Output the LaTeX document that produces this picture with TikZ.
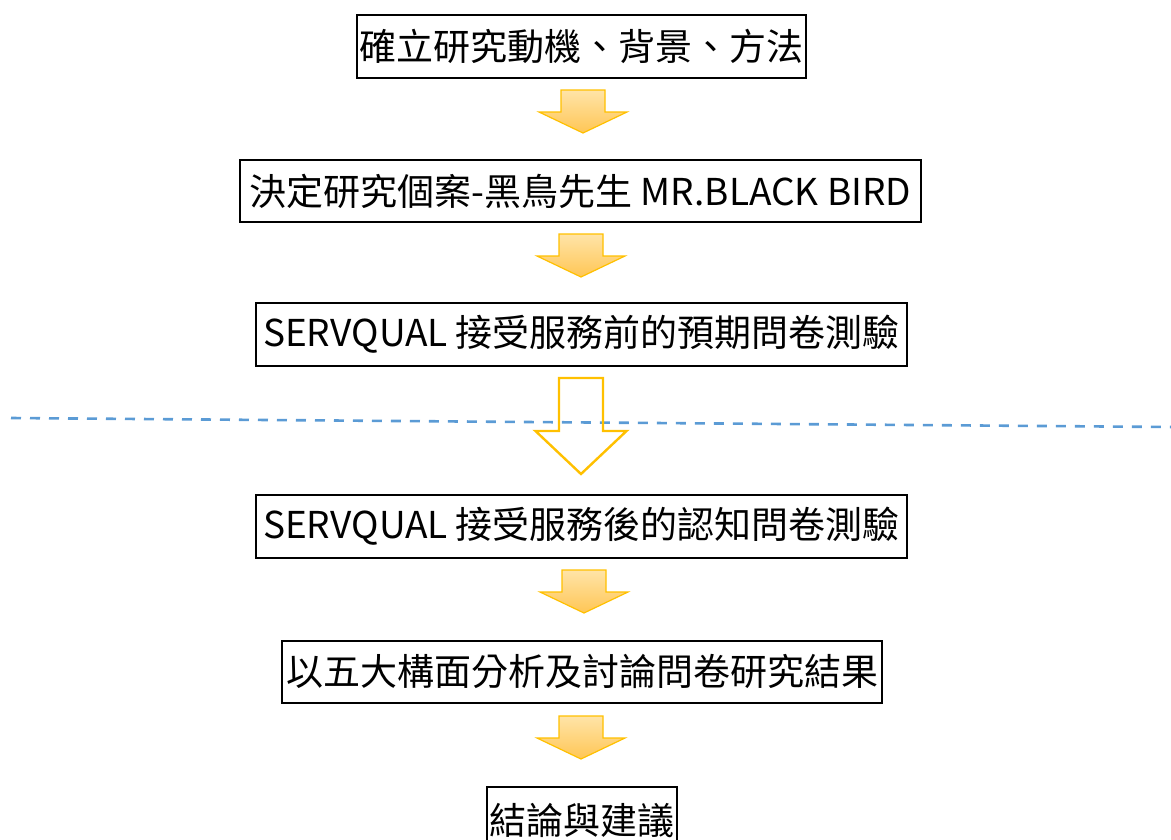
\documentclass[tikz,border=0pt]{standalone}
\usepackage{fontspec}
\setmainfont{Noto Sans CJK TC}
\definecolor{arrowedge}{HTML}{FFC000}
\definecolor{arrowtop}{HTML}{FFE4A8}
\definecolor{arrowbot}{HTML}{FFC655}
\definecolor{dashblue}{HTML}{5B9BD5}
\tikzset{
  stepbox/.style={draw=black, line width=2.2pt, inner sep=0pt, font=\fontsize{37}{40}\selectfont, text=black},
  pics/fillarrow/.style={code={
    \path[draw=arrowedge, line width=1.2pt, top color=arrowtop, bottom color=arrowbot]
      (-22,0) -- (22,0) -- (22,22) -- (44,22) -- (0,43) -- (-44,22) -- (-22,22) -- cycle;
  }},
  pics/openarrow/.style={code={
    \draw[arrowedge, line width=2.4pt, line join=miter]
      (-22,0) -- (22,0) -- (22,53) -- (45.5,53) -- (0,96) -- (-45.5,53) -- (-22,53) -- cycle;
  }},
}
\begin{document}
\begin{tikzpicture}[x=1pt,y=-1pt]
\useasboundingbox (0,0) rectangle (1171,839);
% dashed separator
\coordinate (dl) at (11,418);
\coordinate (dr) at (1171,427);
\draw[dashblue, line width=2.6pt, dash pattern=on 10pt off 9pt] (dl) -- (dr);
% boxes
\node[stepbox, minimum width=449pt, minimum height=63pt] (b1) at (581.5,46.5) {確立研究動機、背景、方法};
\node[stepbox, minimum width=681pt, minimum height=62pt] (b2) at (580.5,191) {決定研究個案-黑鳥先生 MR.BLACK BIRD};
\node[stepbox, minimum width=651pt, minimum height=63pt] (b3) at (581.5,334.5) {SERVQUAL 接受服務前的預期問卷測驗};
\node[stepbox, minimum width=651pt, minimum height=63pt] (b4) at (581.5,526.5) {SERVQUAL 接受服務後的認知問卷測驗};
\node[stepbox, minimum width=600pt, minimum height=62pt] (b5) at (582,672) {以五大構面分析及討論問卷研究結果};
\node[stepbox, minimum width=190pt, minimum height=66pt, anchor=north] (b6) at (582,786) {\raisebox{-4pt}{結論與建議}};
% arrows
\pic at (583,90) {fillarrow};
\pic at (581,234) {fillarrow};
\pic at (581,378) {openarrow};
\pic at (584,570) {fillarrow};
\pic at (581,716) {fillarrow};
\end{tikzpicture}
\end{document}
